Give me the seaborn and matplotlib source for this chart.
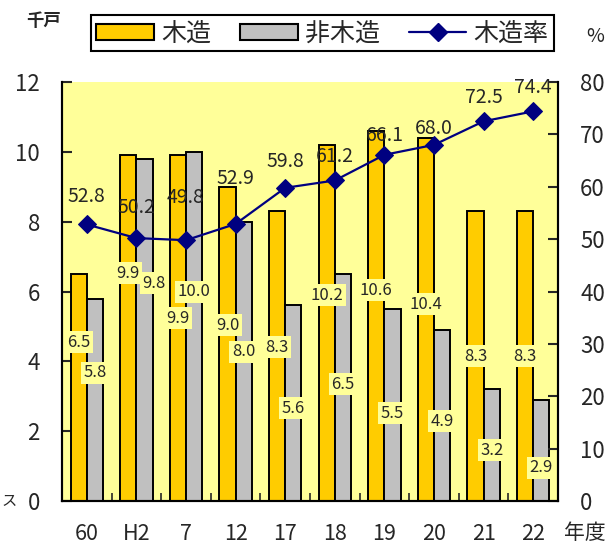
import numpy as np
import pandas as pd
import seaborn as sns
import matplotlib
matplotlib.use("Agg")
import matplotlib.pyplot as plt
from matplotlib.patches import Patch
from matplotlib.lines import Line2D

# data
years = ["60", "H2", "7", "12", "17", "18", "19", "20", "21", "22"]
wood = [6.5, 9.9, 9.9, 9.0, 8.3, 10.2, 10.6, 10.4, 8.3, 8.3]
non_wood = [5.8, 9.8, 10.0, 8.0, 5.6, 6.5, 5.5, 4.9, 3.2, 2.9]
wood_rate = [52.8, 50.2, 49.8, 52.9, 59.8, 61.2, 66.1, 68.0, 72.5, 74.4]
series_names = ["木造", "非木造", "木造率"]

# where the hand-placed value labels sit (data units of the left axis)
wood_label_y = [4.55, 6.53, 5.24, 5.04, 4.41, 5.90, 6.04, 5.64, 4.15, 4.15]
non_wood_label_y = [3.67, 6.24, 5.99, 4.27, 2.66, 3.35, 2.52, 2.29, 1.46, 0.95]
# offset of the rate labels above their markers (points)
rate_label_dy = [20, 22, 31, 33, 19, 17, 14, 12, 17, 17]

WOOD_COLOR = "#FFCC00"
NON_WOOD_COLOR = "#C0C0C0"
BG_COLOR = "#FFFF99"
LINE_COLOR = "#000080"

sns.set_style("ticks")
plt.rcParams["font.family"] = ["Noto Sans CJK JP", "DejaVu Sans"]

df = pd.DataFrame({
    "年度": years * 2,
    "種別": [series_names[0]] * len(years) + [series_names[1]] * len(years),
    "千戸": wood + non_wood,
})

fig = plt.figure(figsize=(6.15, 5.49), dpi=100)
ax = fig.add_axes([0.1008, 0.0874, 0.8065, 0.7632])
ax.set_facecolor(BG_COLOR)

sns.barplot(
    data=df, x="年度", y="千戸", hue="種別",
    palette={series_names[0]: WOOD_COLOR, series_names[1]: NON_WOOD_COLOR},
    edgecolor="black", linewidth=1.4, width=0.65, saturation=1,
    legend=False, ax=ax,
)

pos = np.arange(len(years))
half = 0.65 / 4
for i in range(len(years)):
    nudge = 7 if years[i] == "H2" else 0
    ax.annotate(f"{wood[i]:.1f}", (pos[i] - half, wood_label_y[i]),
                ha="center", va="center", fontsize=12,
                bbox=dict(boxstyle="square,pad=0.15", fc=BG_COLOR, ec="none"))
    ax.annotate(f"{non_wood[i]:.1f}", (pos[i] + half, non_wood_label_y[i]),
                xytext=(nudge, 0), textcoords="offset points",
                ha="center", va="center", fontsize=12,
                bbox=dict(boxstyle="square,pad=0.15", fc=BG_COLOR, ec="none"))

ax.set_ylim(0, 12)
ax.set_yticks(np.arange(0, 13, 2))
ax.set_xlabel("")
ax.set_ylabel("")

ax2 = ax.twinx()
sns.lineplot(x=pos, y=wood_rate, ax=ax2, color=LINE_COLOR, linewidth=1.6,
             marker="D", markersize=9, markeredgecolor=LINE_COLOR)
for i in range(len(years)):
    ax2.annotate(f"{wood_rate[i]:.1f}", (pos[i], wood_rate[i]),
                 xytext=(0, rate_label_dy[i]), textcoords="offset points",
                 ha="center", va="center", fontsize=14)
ax2.set_ylim(0, 80)
ax2.set_yticks(np.arange(0, 81, 10))
ax2.set_ylabel("")

ax.set_xlim(-0.5, len(years) - 0.5)
ax.set_xticks(pos)
ax.set_xticklabels(years)
ax.set_xticks(np.arange(0.5, len(years) - 1, 1), minor=True)

for a in (ax, ax2):
    a.spines["top"].set_visible(False)
    for s in ("left", "right", "bottom"):
        a.spines[s].set_linewidth(1.5)
        a.spines[s].set_color("black")

ax.tick_params(axis="y", direction="in", length=7, width=1.5, pad=16, labelsize=16)
ax.tick_params(axis="x", which="major", length=0, pad=16, labelsize=15.5)
ax.tick_params(axis="x", which="minor", direction="in", length=6, width=1.2)
ax2.tick_params(axis="y", direction="in", length=7, width=1.5, pad=16, labelsize=16)

handles = [
    Patch(facecolor=WOOD_COLOR, edgecolor="black", linewidth=1.5),
    Patch(facecolor=NON_WOOD_COLOR, edgecolor="black", linewidth=1.5),
    Line2D([], [], color=LINE_COLOR, linewidth=1.6, marker="D", markersize=9),
]
leg = fig.legend(handles, series_names, loc="center", ncol=3,
                 bbox_to_anchor=(0.5244, 0.939), fontsize=18,
                 frameon=True, fancybox=False, framealpha=1,
                 edgecolor="black", borderpad=0.2,
                 handlelength=2.3, handleheight=0.6, handletextpad=0.3,
                 columnspacing=1.15)
leg.get_frame().set_linewidth(1.5)

fig.text(0.042, 0.962, "千戸", ha="left", va="center", fontsize=12.5, fontweight="bold")
fig.text(0.967, 0.933, "%", ha="center", va="center", fontsize=14)
fig.text(0.985, 0.03, "年度", ha="right", va="center", fontsize=15)
fig.text(0.002, 0.086, "ス", ha="left", va="center", fontsize=11)

fig.savefig("out.png", dpi=100)
